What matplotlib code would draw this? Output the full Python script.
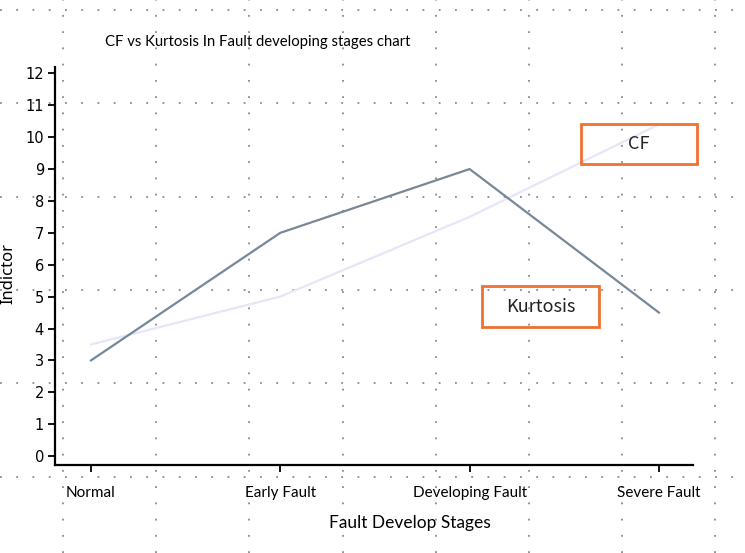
import matplotlib
matplotlib.use("Agg")
import matplotlib.pyplot as plt
import numpy as np
from matplotlib.patches import Rectangle

stages = ["Normal", "Early Fault", "Developing Fault", "Severe Fault"]
kurtosis = [3, 7, 9, 4.5]
cf = [3.5, 5, 7.5, 10.4]
yticks = list(range(0, 13))

W, H = 745, 553
fig = plt.figure(figsize=(W / 100, H / 100), dpi=100)

# background dotted overlay grid (whole figure)
bg = fig.add_axes([0, 0, 1, 1], zorder=0)
bg.set_xlim(0, W)
bg.set_ylim(H, 0)
bg.set_xticks(np.arange(63, W, 93.2))
bg.set_yticks(np.arange(10, H, 93.3))
bg.tick_params(length=0, labelbottom=False, labelleft=False)
for s in bg.spines.values():
    s.set_visible(False)
bg.grid(True, color="#8a8a8a", linestyle=(0, (1, 8)), linewidth=1.3)

ax = fig.add_axes([55 / W, 88 / H, (693 - 55) / W, (465 - 67) / H], zorder=2)
ax.patch.set_alpha(0)
x = np.arange(len(stages))
ax.plot(x, cf, color="#E6E6FA", lw=1.6)
ax.plot(x, kurtosis, color="#778899", lw=1.6)
ax.set_xlim(-0.19, 3.18)
ax.set_ylim(-0.28, 12.2)
ax.set_xticks(x)
ax.set_xticklabels(stages, fontfamily="Lato", fontsize=11)
ax.set_yticks(yticks)
ax.set_yticklabels([str(v) for v in yticks], fontfamily="DejaVu Sans", fontsize=10.5)
ax.tick_params(axis="y", direction="out", length=5, width=1.3, pad=3)
ax.tick_params(axis="x", direction="out", length=5, width=1.3, pad=10)
for s in ["top", "right"]:
    ax.spines[s].set_visible(False)
for s in ["left", "bottom"]:
    ax.spines[s].set_linewidth(1.6)

fig.text(105 / W, 1 - 42 / H, "CF vs Kurtosis In Fault developing stages chart",
         fontfamily="Lato", fontsize=10.75, va="center", ha="left")
fig.text(8 / W, 1 - 273 / H, "Indictor", rotation=90, fontfamily="Noto Sans",
         fontsize=12, va="center", ha="center")
fig.text(410 / W, 1 - 523 / H, "Fault Develop Stages", fontfamily="Lato",
         fontsize=12.5, va="center", ha="center")

def boxlabel(x0, y0, x1, y1, txt):
    r = Rectangle((x0 / W, 1 - y1 / H), (x1 - x0) / W, (y1 - y0) / H,
                  transform=fig.transFigure, fill=False, edgecolor="#F07030",
                  linewidth=2, zorder=5)
    fig.add_artist(r)
    fig.text((x0 + x1) / 2 / W, 1 - (y0 + y1) / 2 / H, txt,
             fontfamily="Noto Sans CJK SC", fontsize=13, ha="center", va="center",
             color="#222222", zorder=6)

boxlabel(581, 124, 697, 164, "CF")
boxlabel(482, 286, 599, 327, "Kurtosis")

fig.savefig("out.png", dpi=100)
